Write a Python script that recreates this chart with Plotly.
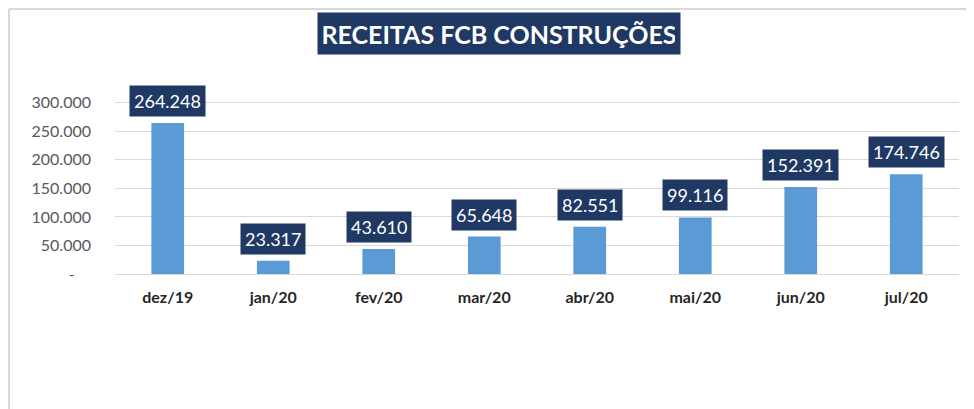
import plotly.graph_objects as go

months = ["dez/19", "jan/20", "fev/20", "mar/20", "abr/20", "mai/20", "jun/20", "jul/20"]
receitas = [264248, 23317, 43610, 65648, 82551, 99116, 152391, 174746]
y_tickvals = [0, 50000, 100000, 150000, 200000, 250000, 300000]
y_ticktext = ["-\u00a0\u00a0\u00a0\u00a0"] + [f"{v:,}".replace(",", ".") for v in y_tickvals[1:]]
title_text = "RECEITAS FCB CONSTRUÇÕES"

NAVY = "#1F3864"
BAR = "#5B9BD5"
FONT = "Lato"

# page has 8px body margin; figure sized to fit the 974x409 window
OFF = 8
W, H = 974 - OFF, 409 - OFF
L, R, T, B = 115 - OFF, 15, 97 - OFF, 135
pw, ph = W - L - R, H - T - B

def px_x(px):  # page pixel -> paper coord
    return (px - OFF - L) / pw

def px_y(py):
    return (H - B - (py - OFF)) / ph

fig = go.Figure()
fig.add_trace(go.Bar(x=months, y=receitas, marker=dict(color=BAR, line=dict(width=0)),
                     hoverinfo="x+y"))

annotations = []
for m, v in zip(months, receitas):
    annotations.append(dict(
        x=m, y=v, xref="x", yref="y", text=f"{v:,}".replace(",", "."),
        showarrow=False, yanchor="bottom", yshift=6,
        font=dict(family=FONT, size=18, color="white"),
        bgcolor=NAVY, borderpad=4,
    ))
annotations.append(dict(
    x=px_x(499), y=px_y(33.5), xref="paper", yref="paper", text=f"<b>{title_text}</b>",
    showarrow=False, xanchor="center", yanchor="middle",
    font=dict(family=FONT, size=25, color="white"),
    bgcolor=NAVY, borderpad=5, width=352, height=31,
))

shapes = [
    dict(type="line", xref="paper", yref="paper", x0=px_x(9), x1=px_x(9), y0=px_y(420), y1=px_y(9),
         line=dict(color="#D9D9D9", width=2)),
    dict(type="line", xref="paper", yref="paper", x0=px_x(9), x1=px_x(974), y0=px_y(9), y1=px_y(9),
         line=dict(color="#D9D9D9", width=2)),
]

fig.update_layout(
    width=W, height=H,
    margin=dict(l=L, r=R, t=T, b=B),
    paper_bgcolor="white", plot_bgcolor="white",
    bargap=0.69,
    showlegend=False,
    annotations=annotations,
    shapes=shapes,
    font=dict(family=FONT),
    xaxis=dict(
        showgrid=False, showline=False, zeroline=False,
        tickfont=dict(family=FONT, size=16, color="#262626", weight="bold"),
        ticklabelstandoff=12,
    ),
    yaxis=dict(
        range=[0, 310000], tickvals=y_tickvals, ticktext=y_ticktext,
        showgrid=True, gridcolor="#D9D9D9", gridwidth=1,
        zeroline=True, zerolinecolor="#D9D9D9", zerolinewidth=1,
        showline=False,
        tickfont=dict(family=FONT, size=16, color="#595959"),
        ticklabelstandoff=23,
    ),
)

fig.write_html("out.html")
